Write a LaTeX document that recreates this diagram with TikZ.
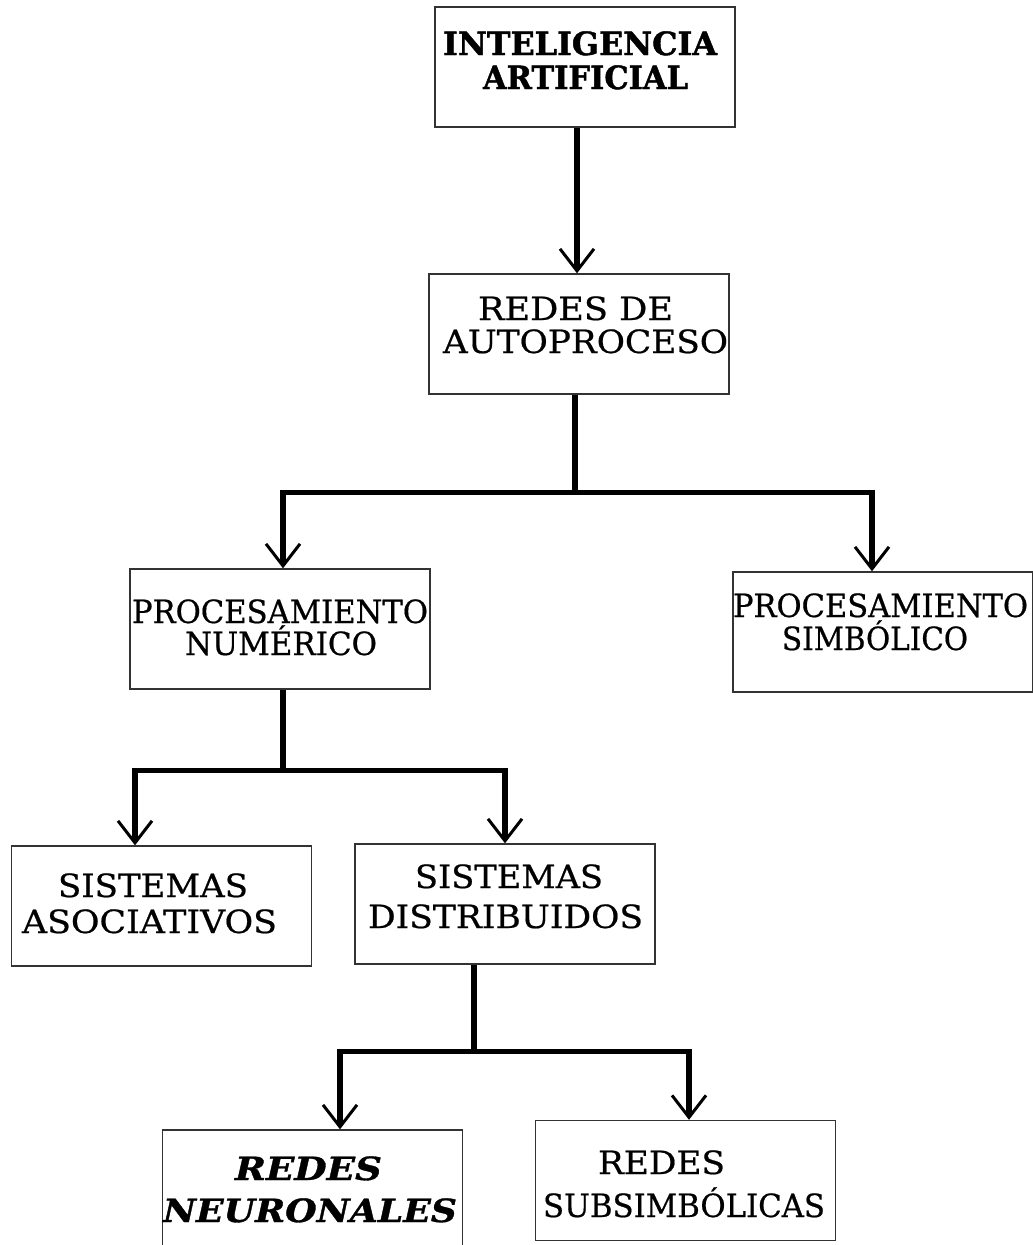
\documentclass[tikz,border=0pt]{standalone}
\usepackage{fontspec}
\usepackage{graphicx}
\setmainfont{DejaVu Serif}[FakeBold=0.6]
\newfontface\titlefont{DejaVu Serif Bold}[FakeBold=1.4]
\newfontface\nnfont{DejaVu Serif Bold Italic}[FakeBold=1.0]
\usetikzlibrary{arrows.meta}

% stretch one line of text to a given width (in pt), keeping its height
\newcommand\fitw[2]{\resizebox{#1pt}{\height}{#2}}

\begin{document}
\begin{tikzpicture}[x=1pt,y=-1pt,
  box/.style={draw=black!80, line width=1.4pt, rectangle,
              minimum width=300pt, minimum height=120pt, inner sep=0pt},
  lbl/.style={anchor=base, inner sep=0pt,
              font=\fontsize{32}{36}\selectfont},
  title/.style={lbl, font=\fontsize{32}{36}\selectfont\titlefont},
  strong/.style={lbl, font=\fontsize{32}{36}\selectfont\nnfont},
  link/.style={line width=5.5pt, black},
  arrowlink/.style={link,
      -{Straight Barb[length=22pt, width=34pt, line width=3pt]}}
]
\useasboundingbox (0,0) rectangle (1033,1245);

% boxes
\node[box] (ia)  at (585,67)     {};
\node[box] (rap) at (579,334)    {};
\node[box] (pn)  at (280,629)    {};
\node[box] (ps)  at (883,632)    {};
\node[box] (sa)  at (161.5,906)  {};
\node[box] (sd)  at (505,904)    {};
\node[box] (rn)  at (312.5,1190) {};
\node[box] (rs)  at (685.5,1180.5) {};

% box texts
\node[title] (t1a) at (580,55)    {\fitw{274}{INTELIGENCIA}};
\node[title] (t1b) at (585.5,89)  {\fitw{205}{ARTIFICIAL}};

\node[lbl] (t2a) at (575.5,320) {\fitw{195}{REDES DE}};
\node[lbl] (t2b) at (585.5,353) {\fitw{285}{AUTOPROCESO}};

\node[lbl] (t3a) at (280,623) {\fitw{296}{PROCESAMIENTO}};
\node[lbl] (t3b) at (281,655) {\fitw{192}{NUMÉRICO}};

\node[lbl] (t4a) at (880.5,617) {\fitw{295}{PROCESAMIENTO}};
\node[lbl] (t4b) at (875,650)   {\fitw{186}{SIMBÓLICO}};

\node[lbl] (t5a) at (153,897)   {\fitw{190}{SISTEMAS}};
\node[lbl] (t5b) at (149.5,933) {\fitw{255}{ASOCIATIVOS}};

\node[lbl] (t6a) at (509,888)   {\fitw{188}{SISTEMAS}};
\node[lbl] (t6b) at (505.5,928) {\fitw{275}{DISTRIBUIDOS}};

\node[strong] (t7a) at (308.5,1180) {\fitw{147}{REDES}};
\node[strong] (t7b) at (310,1222)   {\fitw{294}{NEURONALES}};

\node[lbl] (t8a) at (661.5,1174) {\fitw{127}{REDES}};
\node[lbl] (t8b) at (684,1217)   {\fitw{282}{SUBSIMBÓLICAS}};

% connectors
\draw[arrowlink] ([xshift=-8pt]ia.south) -- ([xshift=-2pt]rap.north);

\draw[link] ([xshift=-4pt]rap.south) -- ++(0,98) coordinate (j1);
\draw[arrowlink] (j1) -| ([xshift=3pt]pn.north);
\draw[arrowlink] (j1) -| ([xshift=-11pt]ps.north);

\draw[link] ([xshift=3pt]pn.south) -- ++(0,81) coordinate (j2);
\draw[arrowlink] (j2) -| ([xshift=-26.5pt]sa.north);
\draw[arrowlink] (j2) -| (sd.north);

\draw[link] ([xshift=-31pt]sd.south) -- ++(0,87) coordinate (j3);
\draw[arrowlink] (j3) -| ([xshift=27.5pt]rn.north);
\draw[arrowlink] (j3) -| ([xshift=3.5pt]rs.north);
\end{tikzpicture}
\end{document}
